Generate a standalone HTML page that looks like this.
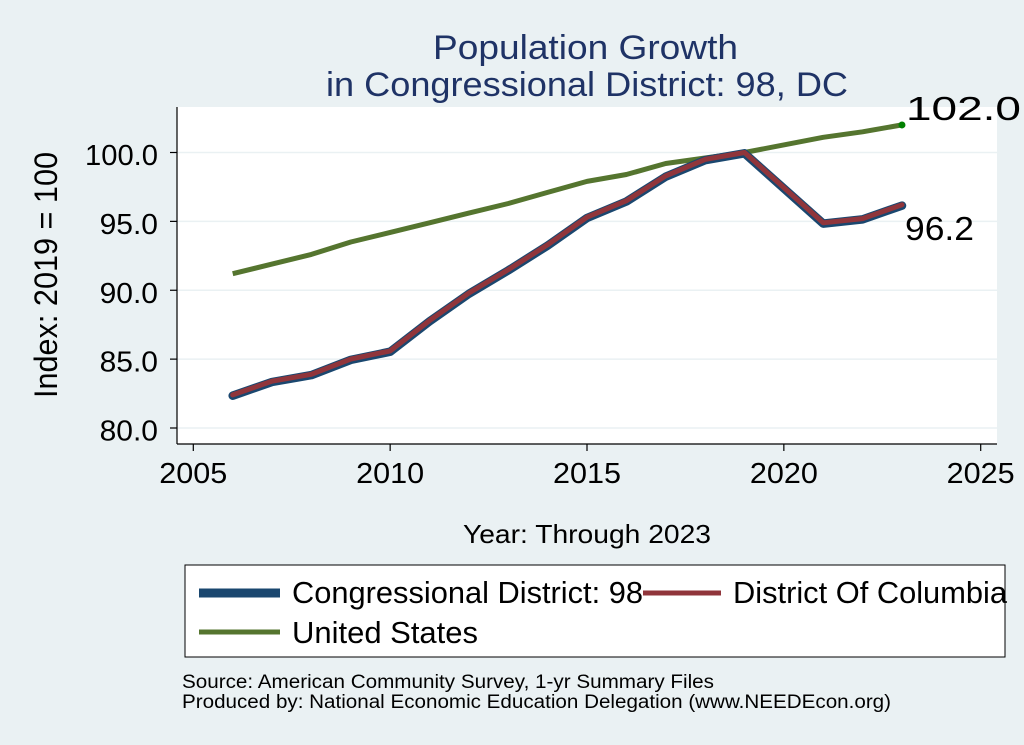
<!DOCTYPE html>
<html><head><meta charset="utf-8"><style>
body{margin:0;background:#eaf1f3;}
svg{display:block;font-family:"Liberation Sans",Arial,sans-serif;}
</style></head><body>
<svg id="chart" width="1024" height="745" viewBox="0 0 1024 745">
<rect x="0" y="0" width="1024" height="745" fill="#eaf1f3"/>
<g>
<text x="433" y="59" font-size="34" fill="#1f3366" textLength="305" lengthAdjust="spacingAndGlyphs">Population Growth</text>
<text x="326" y="96" font-size="34" fill="#1f3366" textLength="522" lengthAdjust="spacingAndGlyphs">in Congressional District: 98, DC</text>
</g>
<rect x="177" y="107" width="820" height="337" fill="#ffffff"/>
<g id="grid"></g>
<g id="axes"></g>
<g id="series"></g>
<text x="463" y="543" font-size="26" fill="#000" textLength="248" lengthAdjust="spacingAndGlyphs">Year: Through 2023</text>
<text transform="translate(57,398) rotate(-90)" font-size="32" fill="#000" textLength="246" lengthAdjust="spacingAndGlyphs">Index: 2019 = 100</text>
<g>
<rect x="185" y="565" width="820" height="92" fill="#ffffff" stroke="#000" stroke-width="1"/>
<g>
<line x1="199" y1="593" x2="280" y2="593" stroke="#1a476f" stroke-width="9"/>
<text x="292" y="603" font-size="31" fill="#000" textLength="351" lengthAdjust="spacingAndGlyphs">Congressional District: 98</text>
</g>
<g>
<line x1="643" y1="593" x2="721" y2="593" stroke="#90353b" stroke-width="5"/>
<text x="733" y="603" font-size="31" fill="#000" textLength="274" lengthAdjust="spacingAndGlyphs">District Of Columbia</text>
</g>
<g>
<line x1="199" y1="632" x2="280" y2="632" stroke="#55752f" stroke-width="5"/>
<text x="292" y="643" font-size="31" fill="#000" textLength="186" lengthAdjust="spacingAndGlyphs">United States</text>
</g>
</g>
<g>
<text x="182" y="688" font-size="19" fill="#000" textLength="532" lengthAdjust="spacingAndGlyphs">Source: American Community Survey, 1-yr Summary Files</text>
<text x="182" y="708" font-size="19" fill="#000" textLength="709" lengthAdjust="spacingAndGlyphs">Produced by: National Economic Education Delegation (www.NEEDEcon.org)</text>
</g>
</svg>
<script>
const years = [2006,2007,2008,2009,2010,2011,2012,2013,2014,2015,2016,2017,2018,2019,2021,2022,2023];
const usValues = [91.2,91.9,92.6,93.5,94.2,94.9,95.6,96.3,97.1,97.9,98.4,99.2,99.6,100.0,101.1,101.5,102.0];
const cdValues = [82.4,83.4,83.9,85.0,85.6,87.8,89.8,91.5,93.3,95.3,96.5,98.3,99.5,100.0,94.9,95.2,96.2];
const dcValues = [82.4,83.4,83.9,85.0,85.6,87.8,89.8,91.5,93.3,95.3,96.5,98.3,99.5,100.0,94.9,95.2,96.2];
const xTicks = [2005,2010,2015,2020,2025];
const yTicks = [80,85,90,95,100];
const yTickLabels = ["80.0","85.0","90.0","95.0","100.0"];

const NS="http://www.w3.org/2000/svg";
function xs(v){return 193.3+(v-2005)*(980.7-193.3)/20;}
function ys(v){return 428-(v-80)*(428-152.5)/20;}
function mk(tag,attrs,parent,txt){const e=document.createElementNS(NS,tag);for(const k in attrs)e.setAttribute(k,attrs[k]);if(txt!==undefined)e.textContent=txt;parent.appendChild(e);return e;}
const grid=document.getElementById('grid'),axes=document.getElementById('axes'),series=document.getElementById('series');
yTicks.forEach((t,i)=>{
  const g=mk('line',{x1:177,x2:997,y1:ys(t),y2:ys(t),stroke:'#eaf1f3','stroke-width':1.5},grid);
  
  
  mk('line',{x1:170,x2:177,y1:ys(t),y2:ys(t),stroke:'#000','stroke-width':1.2},axes);
  const lab=yTickLabels[i];
  const l=mk('text',{x:158,y:ys(t)+12.5,'text-anchor':'end','font-size':29,fill:'#000',textLength:lab.length*14.6,lengthAdjust:'spacingAndGlyphs'},axes,lab);
  
  
});
mk('line',{x1:177,x2:177,y1:107,y2:444,stroke:'#000','stroke-width':1.2},axes);
mk('line',{x1:177,x2:997,y1:444,y2:444,stroke:'#000','stroke-width':1.2},axes);
xTicks.forEach(t=>{
  mk('line',{x1:xs(t),x2:xs(t),y1:444,y2:451,stroke:'#000','stroke-width':1.2},axes);
  const l=mk('text',{x:xs(t),y:483,'text-anchor':'middle','font-size':29,fill:'#000',textLength:68,lengthAdjust:'spacingAndGlyphs'},axes,String(t));
  
  
});
function pts(vals,dx,dy){return years.map((y,i)=>(xs(y)+dx).toFixed(1)+','+(ys(vals[i])+dy).toFixed(1)).join(' ');}
const us=mk('polyline',{points:pts(usValues,0,0),fill:'none',stroke:'#55752f','stroke-width':5,'stroke-linejoin':'round'},series);


const cd=mk('polyline',{points:pts(cdValues,0,0.8),fill:'none',stroke:'#1a476f','stroke-width':8.5,'stroke-linejoin':'round','stroke-linecap':'round'},series);


const dc=mk('polyline',{points:pts(dcValues,0,0),fill:'none',stroke:'#90353b','stroke-width':5,'stroke-linejoin':'round','stroke-linecap':'round'},series);


const n=years.length-1;
const dot=mk('circle',{cx:xs(years[n]),cy:ys(usValues[n]),r:3.5,fill:'#008000'},series);


const l1=mk('text',{x:906,y:ys(usValues[n])-5,'font-size':33,fill:'#000',textLength:115,lengthAdjust:'spacingAndGlyphs'},series,usValues[n].toFixed(1));


const l2=mk('text',{x:905,y:ys(cdValues[n])+35,'font-size':33,fill:'#000',textLength:69,lengthAdjust:'spacingAndGlyphs'},series,cdValues[n].toFixed(1));


</script>
</body></html>
